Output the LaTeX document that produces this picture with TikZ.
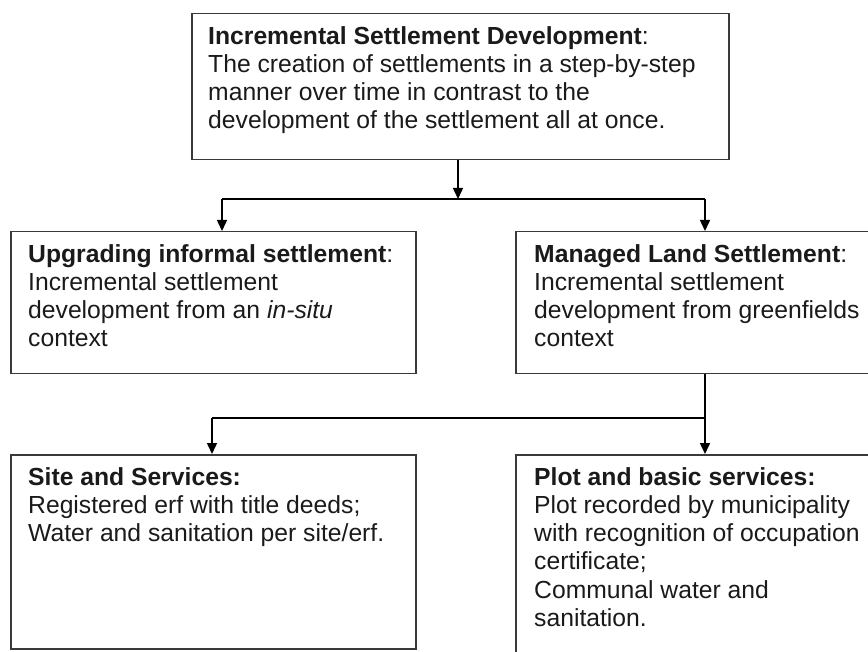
\documentclass[tikz,border=0pt]{standalone}
\usepackage{fontspec}
\setmainfont{Liberation Sans}
\usetikzlibrary{arrows.meta}
\definecolor{boxgray}{HTML}{3A3A3A}
\definecolor{txtcol}{HTML}{1A1A1A}
\begin{document}
\begin{tikzpicture}[x=1pt,y=-1pt,
  box/.style={draw=boxgray, line width=1.5pt, rectangle, inner sep=0pt, anchor=north west},
  txt/.style={anchor=north west, align=left, inner sep=0pt, font=\fontsize{24.7}{28.3}\selectfont, text=txtcol},
  conn/.style={draw=black, line width=1.5pt},
  arr/.style={conn, -{Triangle[length=11pt,width=10pt]}}]
\useasboundingbox (0,0) rectangle (868,652);
\clip (0,0) rectangle (868,652);
% boxes
\node[box, minimum width=537pt, minimum height=146pt] (top) at (191,13) {};
\node[box, minimum width=405pt, minimum height=142pt] (ul) at (10,231) {};
\node[box, minimum width=380pt, minimum height=142pt] (ml) at (515,231) {};
\node[box, minimum width=405pt, minimum height=194pt] (ss) at (10,454) {};
\node[box, minimum width=380pt, minimum height=230pt] (pb) at (515,454) {};
% texts
\node[txt] (toptxt) at (208,26) {\textbf{Incremental Settlement Development}:\\The creation of settlements in a step-by-step\\manner over time in contrast to the\\development of the settlement all at once.};
\node[txt] (ultxt) at (28,244) {\textbf{Upgrading informal settlement}:\\Incremental settlement\\development from an \textit{in-situ}\\context};
\node[txt] (mltxt) at (534,244) {\textbf{Managed Land Settlement}:\\Incremental settlement\\development from greenfields\\context};
\node[txt] (sstxt) at (28,467) {\textbf{Site and Services:}\\Registered erf with title deeds;\\Water and sanitation per site/erf.};
\node[txt] (pbtxt) at (534,467) {\textbf{Plot and basic services:}\\Plot recorded by municipality\\with recognition of occupation\\certificate;\\Communal water and\\sanitation.};
% connectors
\coordinate (jl) at (222,199);
\coordinate (jr) at (705,199);
\coordinate (jm) at (458,199);
\draw[arr] (top.south -| jm) -- (jm);
\draw[conn] (jl) -- (jr);
\draw[arr] (jl) -- (jl |- ul.north);
\draw[arr] (jr) -- (jr |- ml.north);
\coordinate (kr) at (705,418);
\coordinate (kl) at (212,418);
\draw[arr] (ml.south -| kr) -- (kr |- pb.north);
\draw[conn] (kr) -- (kl);
\draw[arr] (kl) -- (kl |- ss.north);
\end{tikzpicture}
\end{document}
